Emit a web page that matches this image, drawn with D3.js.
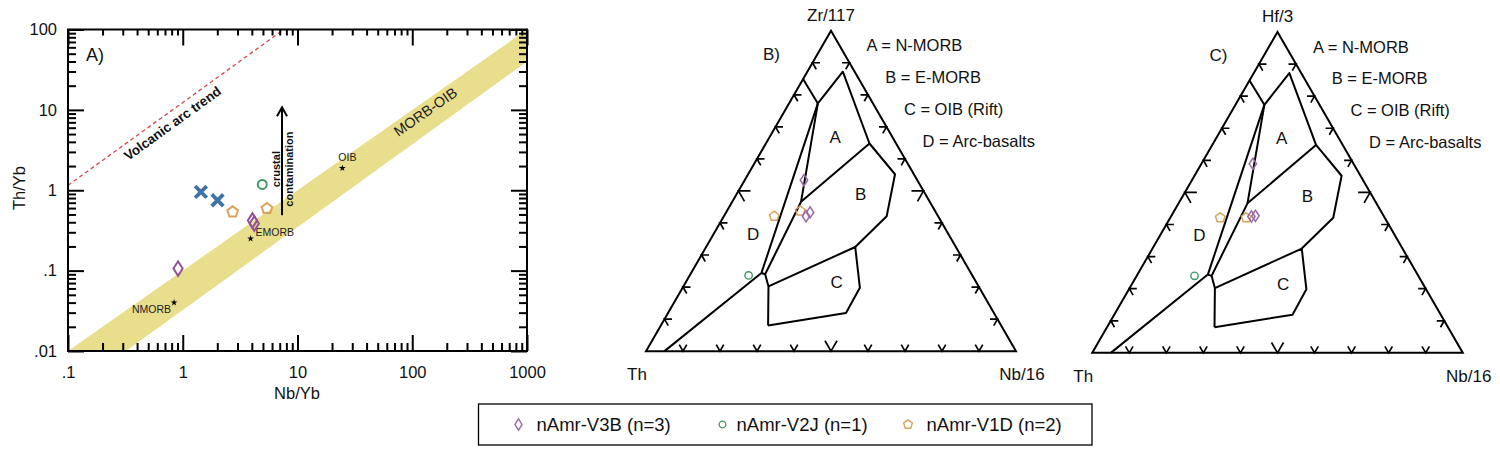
<!DOCTYPE html>
<html lang="en">
<head>
<meta charset="UTF-8">
<title>Th/Yb vs Nb/Yb and Th-Zr-Nb / Th-Hf-Nb ternaries</title>
<script src="https://d3js.org/d3.v7.min.js"></script>
<style>
  body { margin: 0; background: #fff; }
  text { font-family: "Liberation Sans", Arial, sans-serif; }
</style>
</head>
<body>
<script>
// ---------- data ----------
var xTickValues = [0.1, 1, 10, 100, 1000];
var xTickLabels = [".1", "1", "10", "100", "1000"];
var yTickValues = [0.01, 0.1, 1, 10, 100];
var yTickLabels = [".01", ".1", "1", "10", "100"];

// A) Th/Yb vs Nb/Yb
var v3bNbYb = [0.91, 4.05, 4.2];
var v3bThYb = [0.106, 0.42, 0.385];
var v2jNbYb = [4.93];
var v2jThYb = [1.18];
var v1dNbYb = [2.72, 5.42];
var v1dThYb = [0.537, 0.592];
var crossNbYb = [1.44, 2.01];
var crossThYb = [0.953, 0.751];

var refNames = ["NMORB", "EMORB", "OIB"];
var refNbYb = [0.84, 3.9, 24.6];
var refThYb = [0.04, 0.25, 1.88];

var arrayUpper = [[0.1, 0.01], [1000, 100]];
var arrayLower = [[1000, 40], [0.32, 0.01]];
var arcTrend = [[0.1, 1.15], [7.6, 100]];
var contamArrow = [[7.33, 0.49], [7.33, 10.8]];

// B) and C) ternaries, points given as [Th, top apex, Nb/16] in %
var fieldNames = ["A = N-MORB", "B = E-MORB", "C = OIB (Rift)", "D = Arc-basalts"];
var fieldLetters = ["A", "B", "C", "D"];
var fieldLetterAt = [[15.4, 66.9, 17.7], [17.5, 48.9, 33.6], [37.7, 21.6, 40.7], [52.7, 36.7, 10.6]];
var fieldLines = [
  [[15.1, 84.9, 0], [14.9, 77.3, 7.8]],
  [[14.9, 77.3, 7.8], [3.2, 87.2, 9.6], [7.2, 64.8, 28.0], [5.1, 55.2, 39.7], [13.9, 42.1, 44.0], [27.2, 32.5, 40.3]],
  [[14.9, 77.3, 7.8], [34.8, 46.6, 18.6]],
  [[7.2, 64.8, 28.0], [34.8, 46.6, 18.6], [55.8, 24.0, 20.2], [56.8, 20.2, 23.0], [63.0, 8.0, 29.0]],
  [[14.9, 77.3, 7.8], [56.6, 24.4, 19.0], [95, 0, 5]],
  [[56.6, 24.4, 19.0], [55.8, 24.0, 20.2]],
  [[56.8, 20.2, 23.0], [27.2, 32.5, 40.3], [32.3, 19.8, 47.9], [40.0, 11.9, 48.1], [63.0, 8.0, 29.0]]
];

var v3bZr = [[30.6, 53.3, 16.0], [35.7, 42.1, 22.2], [34.0, 43.3, 22.7]];
var v2jZr = [[60.4, 23.6, 15.9]];
var v1dZr = [[44.3, 42.1, 13.6], [36.4, 43.7, 19.8]];
var v3bHf = [[27.2, 58.9, 13.9], [35.8, 42.5, 21.7], [34.6, 42.7, 22.7]];
var v2jHf = [[60.4, 24.0, 15.6]];
var v1dHf = [[44.4, 42.1, 13.5], [37.4, 42.1, 20.5]];

var legendNames = ["nAmr-V3B (n=3)", "nAmr-V2J (n=1)", "nAmr-V1D (n=2)"];

// ---------- styles ----------
var purple = "#93519b", green = "#3f9660", orange = "#d9a35e", blue = "#3f74a9";

function diamondPath(w, h) {
  return "M0," + (-h) + "L" + w + ",0L0," + h + "L" + (-w) + ",0Z";
}
function pentagonPath(r) {
  var p = d3.path();
  for (var k = 0; k < 5; k++) {
    var a = -Math.PI / 2 + k * 2 * Math.PI / 5;
    if (k == 0) p.moveTo(r * Math.cos(a), r * Math.sin(a));
    else p.lineTo(r * Math.cos(a), r * Math.sin(a));
  }
  p.closePath();
  return p.toString();
}

var svg = d3.select("body").append("svg")
  .attr("width", 1500).attr("height", 454)
  .style("background", "#fff");

// ================= A) =================
var x = d3.scaleLog().domain([0.1, 1000]).range([68, 527]);
var y = d3.scaleLog().domain([0.01, 100]).range([351, 29.5]);
var line = d3.line().x(d => x(d[0])).y(d => y(d[1]));

var pA = svg.append("g");
svg.append("clipPath").attr("id", "clipA").append("rect")
  .attr("x", 68).attr("y", 29.5).attr("width", 459).attr("height", 321.5);

var inner = pA.append("g").attr("clip-path", "url(#clipA)");

inner.append("path")
  .attr("d", line(arrayUpper.concat(arrayLower)) + "Z")
  .attr("fill", "#e8de8c");

inner.append("path")
  .attr("d", line(arcTrend))
  .attr("stroke", "#d2474a").attr("stroke-width", 1.3)
  .attr("stroke-dasharray", "4,3").attr("fill", "none");

// minor tick positions
var minorX = [], minorY = [];
[0.1, 1, 10, 100].forEach(d => { for (var k = 2; k < 10; k++) minorX.push(d * k); });
[0.01, 0.1, 1, 10].forEach(d => { for (var k = 2; k < 10; k++) minorY.push(d * k); });

function styleAxis(g) {
  g.select(".domain").remove();
  g.selectAll(".tick line").attr("stroke", "#000").attr("stroke-width", 2);
  g.selectAll(".tick text").attr("font-size", 16.5)
    .attr("font-family", "'Liberation Sans', Arial, sans-serif").attr("fill", "#111");
}

pA.append("g").attr("transform", "translate(0,351)")
  .call(d3.axisBottom(x).tickValues(xTickValues).tickFormat((d, i) => xTickLabels[i])
    .tickSizeInner(-16).tickSizeOuter(0).tickPadding(15)).call(styleAxis);
pA.append("g").attr("transform", "translate(0,351)")
  .call(d3.axisBottom(x).tickValues(minorX).tickFormat("").tickSizeInner(-8).tickSizeOuter(0)).call(styleAxis);
pA.append("g").attr("transform", "translate(0,29.5)")
  .call(d3.axisTop(x).tickValues(xTickValues).tickFormat("").tickSizeInner(-16).tickSizeOuter(0)).call(styleAxis);
pA.append("g").attr("transform", "translate(0,29.5)")
  .call(d3.axisTop(x).tickValues(minorX).tickFormat("").tickSizeInner(-6).tickSizeOuter(0)).call(styleAxis);

pA.append("g").attr("transform", "translate(68,0)")
  .call(d3.axisLeft(y).tickValues(yTickValues).tickFormat((d, i) => yTickLabels[i])
    .tickSizeInner(-16).tickSizeOuter(0).tickPadding(11)).call(styleAxis);
pA.append("g").attr("transform", "translate(68,0)")
  .call(d3.axisLeft(y).tickValues(minorY).tickFormat("").tickSizeInner(-8).tickSizeOuter(0)).call(styleAxis);
pA.append("g").attr("transform", "translate(527,0)")
  .call(d3.axisRight(y).tickValues(yTickValues).tickFormat("").tickSizeInner(-16).tickSizeOuter(0)).call(styleAxis);
pA.append("g").attr("transform", "translate(527,0)")
  .call(d3.axisRight(y).tickValues(minorY).tickFormat("").tickSizeInner(-8).tickSizeOuter(0)).call(styleAxis);

pA.append("rect").attr("x", 68).attr("y", 29.5).attr("width", 459).attr("height", 321.5)
  .attr("fill", "none").attr("stroke", "#000").attr("stroke-width", 2);

// axis titles
pA.append("text").attr("x", 297).attr("y", 399).attr("text-anchor", "middle")
  .attr("font-size", 16.5).attr("fill", "#111").text("Nb/Yb");
pA.append("text").attr("transform", "translate(25,188) rotate(-90)").attr("text-anchor", "middle")
  .attr("font-size", 16.5).attr("fill", "#111").text("Th/Yb");
pA.append("text").attr("x", 86).attr("y", 61).attr("font-size", 18).attr("fill", "#111").text("A)");

// trend labels, rotated along the lines
var arcAngle = Math.atan2(y(arcTrend[1][1]) - y(arcTrend[0][1]), x(arcTrend[1][0]) - x(arcTrend[0][0])) * 180 / Math.PI;
pA.append("text")
  .attr("transform", "translate(" + x(0.86) + "," + y(6.1) + ") rotate(" + arcAngle + ")")
  .attr("text-anchor", "middle").attr("font-size", 13.5).attr("font-weight", "bold")
  .attr("fill", "#111").text("Volcanic arc trend");
var bandAngle = Math.atan2(y(arrayUpper[1][1]) - y(arrayUpper[0][1]), x(arrayUpper[1][0]) - x(arrayUpper[0][0])) * 180 / Math.PI;
pA.append("text")
  .attr("transform", "translate(" + x(138) + "," + y(8.4) + ") rotate(" + bandAngle + ")")
  .attr("text-anchor", "middle").attr("font-size", 14.5).attr("fill", "#222").text("MORB-OIB");

// crustal contamination arrow
var ax0 = x(contamArrow[0][0]), ayB = y(contamArrow[0][1]), ayT = y(contamArrow[1][1]);
pA.append("line").attr("x1", ax0).attr("x2", ax0).attr("y1", ayB).attr("y2", ayT + 1)
  .attr("stroke", "#000").attr("stroke-width", 2);
pA.append("path").attr("d", "M" + (ax0 - 5) + "," + (ayT + 9) + "L" + ax0 + "," + ayT + "L" + (ax0 + 5) + "," + (ayT + 9))
  .attr("stroke", "#000").attr("stroke-width", 2).attr("fill", "none");
var midY = (y(1.6) + y(2.1)) / 2;
pA.append("text").attr("transform", "translate(" + (ax0 - 2) + "," + midY + ") rotate(-90)")
  .attr("text-anchor", "middle").attr("font-size", 11).attr("font-weight", "bold").attr("fill", "#111").text("crustal");
pA.append("text").attr("transform", "translate(" + (ax0 + 11) + "," + midY + ") rotate(-90)")
  .attr("text-anchor", "middle").attr("font-size", 11).attr("font-weight", "bold").attr("fill", "#111").text("contamination");

// reference compositions
var refOffsets = [[-3, 10, "end"], [5, -3, "start"], [-4, -7, "start"]];
refNames.forEach(function(n, i) {
  var px = x(refNbYb[i]), py = y(refThYb[i]);
  pA.append("path").attr("transform", "translate(" + px + "," + py + ")")
    .attr("d", d3.symbol(d3.symbolStar, 14)()).attr("fill", "#000");
  pA.append("text").attr("x", px + refOffsets[i][0]).attr("y", py + refOffsets[i][1])
    .attr("text-anchor", refOffsets[i][2]).attr("font-size", 10.5).attr("fill", "#222").text(n);
});

// samples
crossNbYb.forEach(function(v, i) {
  var px = x(v), py = y(crossThYb[i]), s = 5.8;
  pA.append("path")
    .attr("d", "M" + (px - s) + "," + (py - s) + "L" + (px + s) + "," + (py + s) + "M" + (px - s) + "," + (py + s) + "L" + (px + s) + "," + (py - s))
    .attr("stroke", blue).attr("stroke-width", 3.8);
});
v1dNbYb.forEach(function(v, i) {
  pA.append("path").attr("transform", "translate(" + x(v) + "," + y(v1dThYb[i]) + ")")
    .attr("d", pentagonPath(5.6)).attr("fill", "none").attr("stroke", orange).attr("stroke-width", 2);
});
v2jNbYb.forEach(function(v, i) {
  pA.append("circle").attr("cx", x(v)).attr("cy", y(v2jThYb[i])).attr("r", 4.5)
    .attr("fill", "none").attr("stroke", green).attr("stroke-width", 1.9);
});
v3bNbYb.forEach(function(v, i) {
  pA.append("path").attr("transform", "translate(" + x(v) + "," + y(v3bThYb[i]) + ")")
    .attr("d", diamondPath(4.6, 7.3)).attr("fill", "none").attr("stroke", purple).attr("stroke-width", 2);
});

// ================= B) and C) ternaries =================
function drawTernary(apexX, apexY, side, topLabel, panelLabel, sets) {
  var h = side * Math.sqrt(3) / 2;
  var x0 = apexX - side / 2, y0 = apexY + h;
  var tx = d3.scaleLinear().domain([0, 1]).range([x0, x0 + side]);
  var ty = d3.scaleLinear().domain([0, 1]).range([y0, apexY]);
  function pos(p) {
    var s = p[0] + p[1] + p[2], t = p[1] / s, r = p[2] / s;
    return [tx(r + t / 2), ty(t)];
  }
  var g = svg.append("g");
  var tl = d3.line();

  var corners = [[100, 0, 0], [0, 100, 0], [0, 0, 100]].map(pos);
  g.append("path").attr("d", tl(corners) + "Z").attr("fill", "none")
    .attr("stroke", "#000").attr("stroke-width", 2).attr("stroke-linejoin", "miter");

  // chevron ticks every 10 %
  var c30 = 0.5, s60 = Math.sqrt(3) / 2;
  var edges = [
    {from: corners[0], to: corners[1], arms: [[1, 0], [c30, s60]]},
    {from: corners[1], to: corners[2], arms: [[-1, 0], [-c30, s60]]},
    {from: corners[0], to: corners[2], arms: [[-c30, -s60], [c30, -s60]]}
  ];
  edges.forEach(function(e) {
    d3.range(1, 10).forEach(function(k) {
      var f = k / 10, len = k == 5 ? 12 : 7.5;
      var px = e.from[0] + (e.to[0] - e.from[0]) * f, py = e.from[1] + (e.to[1] - e.from[1]) * f;
      g.append("path")
        .attr("d", "M" + (px + e.arms[0][0] * len) + "," + (py + e.arms[0][1] * len) +
          "L" + px + "," + py + "L" + (px + e.arms[1][0] * len) + "," + (py + e.arms[1][1] * len))
        .attr("fill", "none").attr("stroke", "#000").attr("stroke-width", 1.7);
    });
  });

  fieldLines.forEach(function(l) {
    g.append("path").attr("d", tl(l.map(pos))).attr("fill", "none")
      .attr("stroke", "#000").attr("stroke-width", 2).attr("stroke-linejoin", "round");
  });
  fieldLetters.forEach(function(n, i) {
    var p = pos(fieldLetterAt[i]);
    g.append("text").attr("x", p[0]).attr("y", p[1] + 6).attr("text-anchor", "middle")
      .attr("font-size", 17).attr("fill", "#111").text(n);
  });

  g.append("text").attr("x", apexX).attr("y", apexY - 10).attr("text-anchor", "middle")
    .attr("font-size", 17).attr("fill", "#111").text(topLabel);
  g.append("text").attr("x", apexX - 68).attr("y", apexY + 29).attr("font-size", 17)
    .attr("fill", "#111").text(panelLabel);
  g.append("text").attr("x", corners[0][0] - 9).attr("y", y0 + 29).attr("text-anchor", "middle")
    .attr("font-size", 17).attr("fill", "#111").text("Th");
  g.append("text").attr("x", corners[2][0] + 6).attr("y", y0 + 29).attr("text-anchor", "middle")
    .attr("font-size", 17).attr("fill", "#111").text("Nb/16");
  fieldNames.forEach(function(n, i) {
    g.append("text").attr("x", apexX + 35.5 + i * 18.7).attr("y", apexY + 20.5 + i * 31.8)
      .attr("font-size", 16.5).attr("fill", "#111").text(n);
  });

  // samples
  sets.v1d.forEach(function(p) {
    var q = pos(p);
    g.append("path").attr("transform", "translate(" + q[0] + "," + q[1] + ")")
      .attr("d", pentagonPath(5)).attr("fill", "none").attr("stroke", orange).attr("stroke-width", 1.5);
  });
  sets.v2j.forEach(function(p) {
    var q = pos(p);
    g.append("circle").attr("cx", q[0]).attr("cy", q[1]).attr("r", 3.7)
      .attr("fill", "none").attr("stroke", green).attr("stroke-width", 1.4);
  });
  sets.v3b.forEach(function(p) {
    var q = pos(p);
    g.append("path").attr("transform", "translate(" + q[0] + "," + q[1] + ")")
      .attr("d", diamondPath(3.7, 5.6)).attr("fill", "none").attr("stroke", "#9c68a8").attr("stroke-width", 1.5);
  });
}

drawTernary(831, 30.7, 370, "Zr/117", "B)", {v3b: v3bZr, v2j: v2jZr, v1d: v1dZr});
drawTernary(1277.5, 32, 370.5, "Hf/3", "C)", {v3b: v3bHf, v2j: v2jHf, v1d: v1dHf});

// ================= legend =================
var lg = svg.append("g");
lg.append("rect").attr("x", 478.5).attr("y", 404).attr("width", 613.5).attr("height", 41)
  .attr("fill", "#fff").attr("stroke", "#000").attr("stroke-width", 1.3);
var legendMarkX = [518.5, 722.5, 908];
var legendTextX = [536.5, 736.5, 926.5];
legendNames.forEach(function(n, i) {
  var m = lg.append("g").attr("transform", "translate(" + legendMarkX[i] + ",424.5)");
  if (i == 0) m.append("path").attr("d", diamondPath(3.6, 5.6)).attr("fill", "none").attr("stroke", "#9c68a8").attr("stroke-width", 1.4);
  if (i == 1) m.append("circle").attr("r", 3.3).attr("fill", "none").attr("stroke", green).attr("stroke-width", 1.3);
  if (i == 2) m.append("path").attr("d", pentagonPath(4.6)).attr("fill", "none").attr("stroke", orange).attr("stroke-width", 1.4);
  lg.append("text").attr("x", legendTextX[i]).attr("y", 431).attr("font-size", 18.5)
    .attr("fill", "#111").text(n);
});
</script>
</body>
</html>
